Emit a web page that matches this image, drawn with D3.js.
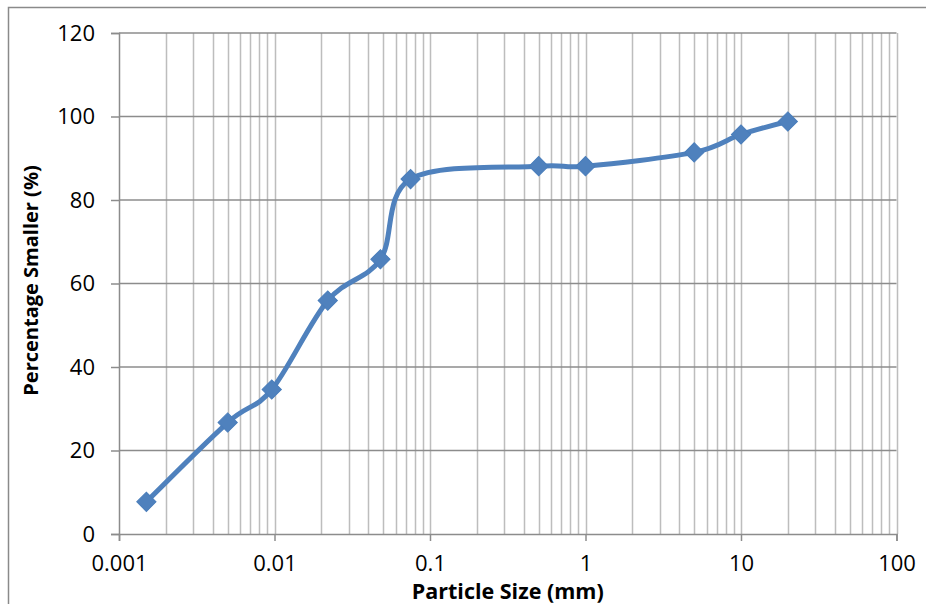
<!DOCTYPE html>
<html>
<head>
<meta charset="utf-8">
<script src="https://cdn.jsdelivr.net/npm/d3@7"></script>
<style>
  html, body { margin: 0; padding: 0; background: #fff; }
  svg { display: block; }
  text { font-family: "Open Sans", "DejaVu Sans", sans-serif; fill: #000; }
</style>
</head>
<body>
<svg id="chart" width="926" height="604"></svg>
<script>
// Data
const particleSize = [0.0015, 0.005, 0.0096, 0.022, 0.048, 0.075, 0.5, 1, 5, 10, 20];
const percentSmaller = [7.7, 26.7, 34.6, 55.9, 65.8, 85.0, 88.1, 88.1, 91.4, 95.7, 98.8];
const xTickValues = [0.001, 0.01, 0.1, 1, 10, 100];
const xTickLabels = ["0.001", "0.01", "0.1", "1", "10", "100"];
const yTickValues = [0, 20, 40, 60, 80, 100, 120];
const xTitle = "Particle Size (mm)";
const yTitle = "Percentage Smaller (%)";

const svg = d3.select("#chart");
const W = 926, H = 604;
const m = { left: 119, right: 926 - 896.5, top: 33, bottom: 604 - 534 };

const x = d3.scaleLog().domain([0.001, 100]).range([m.left, W - m.right]);
const y = d3.scaleLinear().domain([0, 120]).range([H - m.bottom, m.top]);

// outer chart border
svg.append("rect")
  .attr("x", 8.5).attr("y", 7.5)
  .attr("width", 940).attr("height", 620)
  .attr("fill", "none").attr("stroke", "#8a8a8a").attr("stroke-width", 1.5);

// vertical gridlines (minor ticks of log scale)
const minorVals = [];
for (let e = -3; e < 2; e++) {
  for (let k = 1; k <= 10; k++) {
    const v = k * Math.pow(10, e);
    if (v > 0.001 * 1.0001) minorVals.push(+v.toPrecision(6));
  }
}
const uniq = Array.from(new Set(minorVals));
svg.append("g").selectAll("line").data(uniq).join("line")
  .attr("x1", d => Math.round(x(d)) + 0.5).attr("x2", d => Math.round(x(d)) + 0.5)
  .attr("y1", y(120)).attr("y2", y(0))
  .attr("stroke", "#bdbdbd").attr("stroke-width", 1.5);

// horizontal gridlines
svg.append("g").selectAll("line").data(yTickValues.filter(v => v > 0)).join("line")
  .attr("x1", x(0.001)).attr("x2", x(100))
  .attr("y1", d => y(d)).attr("y2", d => y(d))
  .attr("stroke", "#8c8c8c").attr("stroke-width", 1.5);

// y axis
const yAxis = svg.append("g").attr("transform", `translate(${x(0.001)},0)`)
  .call(d3.axisLeft(y).tickValues(yTickValues).tickSize(8).tickPadding(16));
yAxis.select(".domain").attr("stroke", "#8c8c8c").attr("stroke-width", 1.5);
yAxis.selectAll(".tick line").attr("stroke", "#8c8c8c").attr("stroke-width", 1.5);
yAxis.selectAll(".tick text").attr("font-size", 22).attr("font-family", "Open Sans");

// x axis
const xAxis = svg.append("g").attr("transform", `translate(0,${y(0)})`)
  .call(d3.axisBottom(x).tickValues(xTickValues).tickSize(7).tickPadding(14)
    .tickFormat((d, i) => xTickLabels[i]));
xAxis.select(".domain").attr("stroke", "#8c8c8c").attr("stroke-width", 1.5);
xAxis.selectAll(".tick line").attr("stroke", "#8c8c8c").attr("stroke-width", 1.5);
xAxis.selectAll(".tick text").attr("font-size", 22).attr("font-family", "Open Sans");

// axis titles
svg.append("text")
  .attr("x", (x(0.001) + x(100)) / 2).attr("y", 599)
  .attr("text-anchor", "middle")
  .attr("font-size", 21.5).attr("font-weight", "bold")
  .text(xTitle);

svg.append("text")
  .attr("transform", `translate(38,${280.5}) rotate(-90)`)
  .attr("text-anchor", "middle")
  .attr("font-size", 20).attr("font-weight", "bold")
  .text(yTitle);

// data
const data = particleSize.map((d, i) => ({ x: d, y: percentSmaller[i] }));

const line = d3.line()
  .x(d => x(d.x)).y(d => y(d.y))
  .curve(d3.curveCardinal.tension(0));

svg.append("path")
  .datum(data)
  .attr("d", line)
  .attr("fill", "none")
  .attr("stroke", "#4f81bd")
  .attr("stroke-width", 5)
  .attr("stroke-linejoin", "round")
  .attr("stroke-linecap", "round");

const diamond = d3.symbol().type(d3.symbolSquare).size(185);
svg.append("g").selectAll("path").data(data).join("path")
  .attr("d", diamond)
  .attr("transform", d => `translate(${x(d.x)},${y(d.y)}) rotate(45)`)
  .attr("fill", "#4f81bd")
  .attr("stroke", "#4a7ebb")
  .attr("stroke-width", 1);
</script>
</body>
</html>
